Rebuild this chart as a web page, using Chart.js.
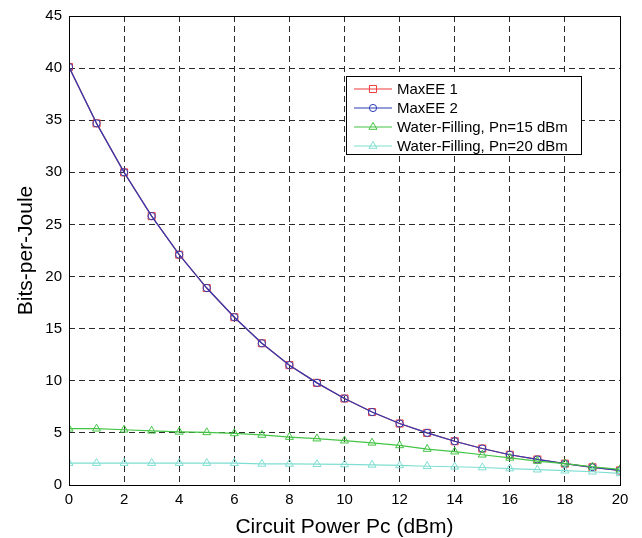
<!DOCTYPE html>
<html>
<head>
<meta charset="utf-8">
<script src="https://cdn.jsdelivr.net/npm/chart.js@4.4.1/dist/chart.umd.min.js"></script>
<style>
  html, body { margin: 0; padding: 0; background: #ffffff; }
  #c { display: block; }
</style>
</head>
<body>
<canvas id="c" width="642" height="538"></canvas>
<script>
// ---- data ----
const circuitPower = [0, 1, 2, 3, 4, 5, 6, 7, 8, 9, 10, 11, 12, 13, 14, 15, 16, 17, 18, 19, 20];
const maxEE1 = [40.1, 34.7, 30.0, 25.8, 22.1, 18.9, 16.1, 13.6, 11.5, 9.8, 8.3, 7.0, 5.9, 5.0, 4.2, 3.5, 2.9, 2.45, 2.05, 1.7, 1.4];
const maxEE2 = [40.1, 34.7, 30.0, 25.8, 22.1, 18.9, 16.1, 13.6, 11.5, 9.8, 8.3, 7.0, 5.9, 5.0, 4.2, 3.5, 2.9, 2.45, 2.05, 1.7, 1.4];
const wf15 = [5.4, 5.4, 5.3, 5.2, 5.1, 5.05, 4.95, 4.8, 4.6, 4.45, 4.25, 4.05, 3.8, 3.45, 3.2, 2.9, 2.6, 2.3, 2.05, 1.75, 1.5];
const wf20 = [2.1, 2.1, 2.1, 2.1, 2.1, 2.1, 2.1, 2.02, 2.02, 2.0, 1.97, 1.93, 1.88, 1.8, 1.75, 1.68, 1.58, 1.47, 1.37, 1.27, 1.12];
const seriesNames = ["MaxEE 1", "MaxEE 2", "Water-Filling, Pn=15 dBm", "Water-Filling, Pn=20 dBm"];
const xTitle = "Circuit Power Pc (dBm)";
const yTitle = "Bits-per-Joule";

const FONT = "'Liberation Sans', Arial, Helvetica, sans-serif";
const colors = ["#ee3b3b", "#2d3cb4", "#44c444", "#7fded2"];
const markers = ["rect", "circle", "triangle", "triangle"];
const radii = [5, 3.6, 4.6, 4.6];

function pts(arr) { return circuitPower.map((x, i) => ({ x: x, y: arr[i] })); }
const allSeries = [maxEE1, maxEE2, wf15, wf20];

const datasets = allSeries.map((arr, i) => ({
  label: seriesNames[i],
  data: pts(arr),
  order: allSeries.length - i,
  borderColor: colors[i],
  backgroundColor: colors[i],
  borderWidth: 1.2,
  pointStyle: markers[i],
  pointRadius: radii[i],
  pointBorderWidth: 1,
  pointBorderColor: colors[i],
  pointBackgroundColor: "rgba(0,0,0,0)",
  tension: 0,
  fill: false
}));

const boxAndLegend = {
  id: "boxAndLegend",
  afterDatasetsDraw(chart) {
    const ctx = chart.ctx;
    const a = chart.chartArea;
    ctx.save();
    // full axes box
    ctx.strokeStyle = "#000";
    ctx.lineWidth = 1;
    ctx.setLineDash([]);
    ctx.strokeRect(Math.round(a.left) + 0.5, Math.round(a.top) + 0.5,
                   Math.round(a.right - a.left), Math.round(a.bottom - a.top));
    // legend box
    const lx = 346, ly = 76, lw = 235, lh = 78;
    ctx.fillStyle = "#fff";
    ctx.fillRect(lx, ly, lw, lh);
    ctx.strokeRect(lx + 0.5, ly + 0.5, lw, lh);
    ctx.font = "15px " + FONT;
    ctx.textBaseline = "middle";
    ctx.textAlign = "left";
    seriesNames.forEach((name, i) => {
      const y = 88.5 + 19 * i;
      ctx.strokeStyle = colors[i];
      ctx.lineWidth = 1.2;
      ctx.beginPath();
      ctx.moveTo(354, y + 0.5);
      ctx.lineTo(392, y + 0.5);
      ctx.stroke();
      ctx.fillStyle = "rgba(0,0,0,0)";
      ctx.lineWidth = 1;
      Chart.helpers.drawPoint(ctx, {
        pointStyle: markers[i], radius: radii[i], borderWidth: 1, rotation: 0
      }, 373, y + 0.5);
      ctx.fillStyle = "#000";
      ctx.fillText(name, 397, y + 1);
    });
    ctx.restore();
  }
};

new Chart(document.getElementById("c"), {
  type: "line",
  data: { datasets: datasets },
  options: {
    responsive: false,
    animation: false,
    devicePixelRatio: 1,
    layout: { padding: { top: 16, right: 22, bottom: 0, left: 0 } },
    plugins: { legend: { display: false }, tooltip: { enabled: false } },
    scales: {
      x: {
        type: "linear",
        min: 0, max: 20,
        afterFit(s) { s.height = 53; },
        ticks: { stepSize: 2, color: "#000", padding: 6, font: { family: FONT, size: 15 } },
        grid: { color: "#2a2a2a", lineWidth: 1, drawTicks: false },
        border: { display: false, dash: [6, 4] },
        title: { display: true, text: xTitle, color: "#000",
                 font: { family: FONT, size: 21, lineHeight: 1 }, padding: { top: 0, bottom: 0 } }
      },
      y: {
        type: "linear",
        min: 0, max: 45,
        afterFit(s) { s.width = 69; },
        ticks: { stepSize: 5, color: "#000", padding: 7, font: { family: FONT, size: 15 } },
        grid: { color: "#2a2a2a", lineWidth: 1, drawTicks: false },
        border: { display: false, dash: [6, 4] },
        title: { display: true, text: yTitle, color: "#000",
                 font: { family: FONT, size: 21, lineHeight: 1 }, padding: { top: 15.5, bottom: 0 } }
      }
    }
  },
  plugins: [boxAndLegend]
});
</script>
</body>
</html>
